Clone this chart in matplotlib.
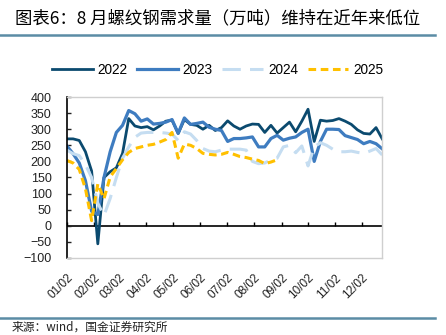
import matplotlib
matplotlib.use("Agg")
import matplotlib.pyplot as plt

plt.rcParams['font.family'] = ['Liberation Sans', 'Noto Sans CJK SC', 'DejaVu Sans']

# 周数据（万吨），每周一个点
days = [7 * k for k in range(52)]

y2022 = [270, 270, 265, 230, 170, -56, 150, 168, 180, 225, 333, 310, 305, 308, 298, 310,
         325, 328, 287, 330, 315, 312, 300, 312, 296, 305, 326, 310, 300, 310, 316, 315,
         290, 312, 288, 305, 322, 292, 325, 362, 262, 328, 325, 327, 333, 325, 315, 298,
         287, 285, 305, 270]
y2023 = [248, 224, 195, 140, 45, 35, 150, 230, 290, 312, 358, 348, 325, 332, 316, 318,
         322, 330, 287, 335, 315, 318, 322, 306, 300, 296, 262, 271, 271, 273, 276, 245,
         245, 271, 281, 266, 272, 276, 290, 300, 200, 262, 300, 300, 299, 280, 274, 268,
         255, 262, 255, 239]
y2024 = [235, 224, 218, 190, 150, 70, 32, 85, 150, 210, 245, 275, 288, 290, 290, 290,
         288, 285, 265, 292, 285, 265, 240, 232, 230, 235, 238, 238, 238, 235, 200, 193,
         195, 205, 210, 245, 250, 227, 248, 186, 245, 258, 250, 238, 230, 230, 232, 228,
         225, 232, 240, 220]
y2025 = [203, 195, 175, 115, 16, 130, 84, 152, 178, 205, 228, 240, 245, 250, 253, 260,
         268, 290, 210, 254, 250, 240, 225, 222, 220, 222, 228, 222, 215, 212, 207, 203,
         193, 198, 205]

tick_days = [0, 31, 59, 90, 120, 151, 181, 212, 243, 273, 304, 334]
tick_labels = ['01/02', '02/02', '03/02', '04/02', '05/02', '06/02',
               '07/02', '08/02', '09/02', '10/02', '11/02', '12/02']

fig = plt.figure(figsize=(4.46, 3.35), dpi=100)
ax = fig.add_axes([0.150, 0.2299, 0.707, 0.4805])

ax.plot(days, y2022, color='#0B4A6F', lw=2.0, label='2022')
ax.plot(days, y2023, color='#3E7CC0', lw=2.3, label='2023')
ax.plot(days, y2024, color='#C5DDF1', lw=2.2, linestyle=(0, (6, 3)), label='2024')
ax.plot(days[:len(y2025)], y2025, color='#FFC000', lw=2.2, linestyle=(0, (2.5, 1.5)), label='2025')

ax.set_xlim(0, 357)
ax.set_ylim(-100, 400)
ax.set_yticks(range(-100, 401, 50))
ax.tick_params(axis='y', direction='in', length=3, width=1, pad=11, labelsize=9, colors='#222222')
ax.set_xticks(tick_days)
ax.set_xticklabels(tick_labels, rotation=45, ha='right', va='top', rotation_mode='anchor')
ax.tick_params(axis='x', length=0, pad=10, labelsize=8.5, colors='#222222')

for s in ['top', 'right', 'bottom']:
    ax.spines[s].set_color('#CFCFCF')
    ax.spines[s].set_linewidth(1)
ax.spines['left'].set_color('black')
ax.spines['left'].set_linewidth(1.2)

# 零轴及刻度
ax.axhline(0, color='black', lw=1.2, zorder=1)
sec = ax.secondary_xaxis(0.2)
sec.set_xticks(tick_days)
sec.set_xticklabels([])
sec.tick_params(direction='in', length=3, width=1)
sec.spines['bottom'].set_visible(False)

leg = fig.legend(loc='center', bbox_to_anchor=(0.488, 0.791), ncol=4, frameon=False,
                 fontsize=9.8, handlelength=3.0, handletextpad=0.35, columnspacing=0.7)

fig.text(0.034, 0.946, '图表6：8 月螺纹钢需求量（万吨）维持在近年来低位',
         fontsize=12.5, ha='left', va='center', family=['Noto Sans CJK SC'],
         weight='medium', style='italic')
fig.add_artist(plt.Line2D([0, 0.975], [0.895, 0.895], color='#5B8CA5', lw=1.8))
fig.add_artist(plt.Line2D([0, 0.975], [0.051, 0.051], color='#5B8CA5', lw=1.8))
fig.text(0.027, 0.004, '来源：wind，国金证券研究所', fontsize=8.5, ha='left', va='bottom',
         family=['Noto Sans CJK SC'], color='#222222')

fig.savefig('out.png', dpi=100)
